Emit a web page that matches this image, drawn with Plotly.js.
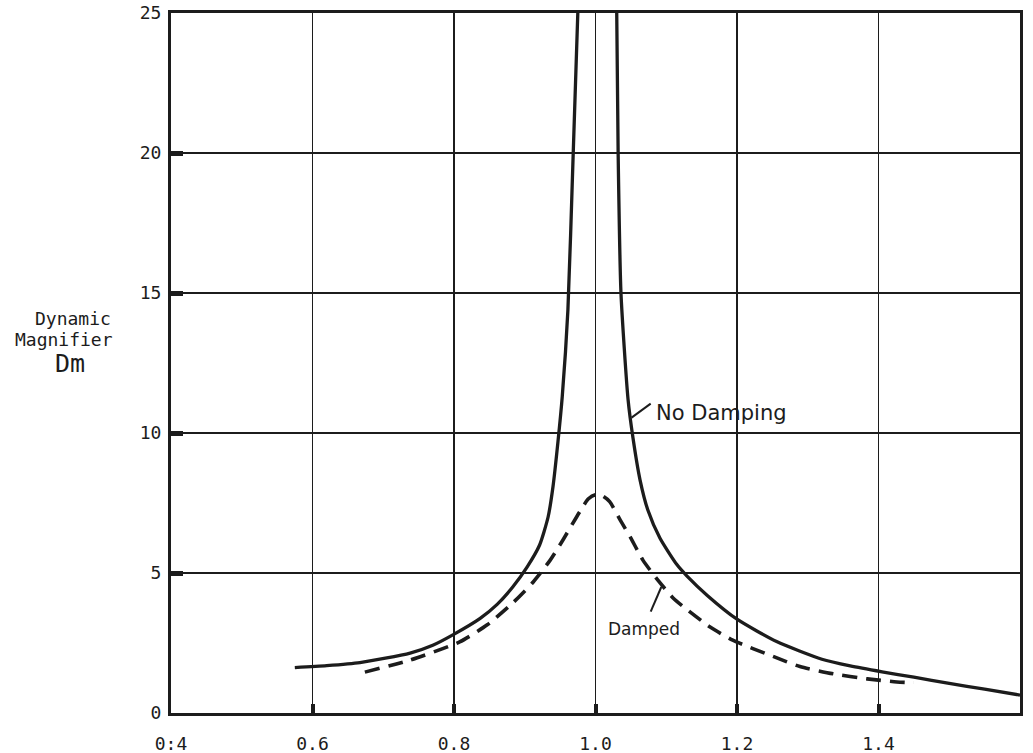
<!DOCTYPE html>
<html>
<head>
<meta charset="utf-8">
<script src="https://cdn.plot.ly/plotly-3.0.1.min.js"></script>
<style>
  html, body { margin: 0; padding: 0; background: #fff; }
  #chart { width: 1033px; height: 753px; }
</style>
</head>
<body>
<div id="chart"></div>
<script>
// Frequency ratio (x) and dynamic magnifier Dm (y)
const noDampLeftX  = [0.575, 0.62, 0.667, 0.738, 0.77, 0.799, 0.837, 0.861, 0.883, 0.903, 0.921, 0.933, 0.94, 0.947, 0.953, 0.961, 0.968, 0.975];
const noDampLeftY  = [1.62, 1.69, 1.80, 2.14, 2.42, 2.80, 3.38, 3.88, 4.50, 5.20, 6.00, 7.0, 8.1, 9.7, 11.3, 14.4, 19.6, 25];
const noDampRightX = [1.030, 1.032, 1.036, 1.046, 1.053, 1.063, 1.074, 1.091, 1.115, 1.129, 1.158, 1.2, 1.256, 1.32, 1.36, 1.405, 1.45, 1.5, 1.55, 1.6];
const noDampRightY = [25, 20, 15, 11.2, 9.82, 8.32, 7.25, 6.25, 5.3, 4.9, 4.2, 3.35, 2.55, 1.92, 1.68, 1.47, 1.28, 1.06, 0.85, 0.64];

const dampedX = [0.674, 0.738, 0.808, 0.847, 0.883, 0.912, 0.936, 0.954, 0.978, 0.99, 1.0, 1.01, 1.02, 1.035, 1.049, 1.067, 1.087, 1.11, 1.129, 1.162, 1.194, 1.251, 1.289, 1.336, 1.384, 1.426, 1.45];
const dampedY = [1.46, 1.89, 2.54, 3.15, 3.93, 4.68, 5.46, 6.18, 7.2, 7.65, 7.8, 7.75, 7.55, 6.89, 6.29, 5.46, 4.78, 4.1, 3.7, 3.07, 2.6, 2.02, 1.66, 1.4, 1.22, 1.11, 1.08];

const xTickVals = [0.4, 0.6, 0.8, 1.0, 1.2, 1.4, 1.6];
const xTickText = ["0:4", "0.6", "0.8", "1.0", "1.2", "1.4", "1.6"];
const yTickVals = [0, 5, 10, 15, 20, 25];
const yTickText = ["0", "5", "10", "15", "20", "25"];

const noDampX = noDampLeftX.concat([null], noDampRightX);
const noDampY = noDampLeftY.concat([null], noDampRightY);

const ink = "#1c1c1c";
const monoFont = "DejaVu Sans Mono, Liberation Mono, monospace";

const traces = [
  {
    x: noDampX, y: noDampY, type: "scatter", mode: "lines",
    connectgaps: false,
    line: { color: ink, width: 3.3, shape: "spline", smoothing: 0.6 },
    hoverinfo: "skip", name: "No Damping"
  },
  {
    x: dampedX, y: dampedY, type: "scatter", mode: "lines",
    line: { color: ink, width: 3.6, dash: "15px,9px", shape: "spline", smoothing: 0.6 },
    hoverinfo: "skip", name: "Damped"
  }
];

const layout = {
  width: 1033, height: 753,
  margin: { l: 171, r: 13, t: 13, b: 40 },
  paper_bgcolor: "#fff", plot_bgcolor: "#fff",
  showlegend: false,
  xaxis: {
    range: [0.4, 1.6],
    tickvals: xTickVals, ticktext: xTickText,
    showgrid: true, gridcolor: ink, gridwidth: 1.8,
    zeroline: false,
    showline: true, linecolor: ink, linewidth: 3, mirror: true,
    ticks: "inside", ticklen: 9, tickwidth: 4, tickcolor: ink,
    ticklabelstandoff: 12,
    tickfont: { family: monoFont, size: 18, color: ink }
  },
  yaxis: {
    range: [0, 25],
    tickvals: yTickVals, ticktext: yTickText,
    showgrid: true, gridcolor: ink, gridwidth: 2.2,
    zeroline: false,
    showline: true, linecolor: ink, linewidth: 3, mirror: true,
    ticks: "inside", ticklen: 12, tickwidth: 5, tickcolor: ink,
    ticklabelstandoff: 3,
    tickfont: { family: monoFont, size: 18, color: ink }
  },
  annotations: [
    {
      xref: "paper", yref: "paper", x: -0.0682, y: 0.564,
      xanchor: "right", yanchor: "middle", showarrow: false,
      text: "Dynamic",
      font: { family: monoFont, size: 18, color: ink }
    },
    {
      xref: "paper", yref: "paper", x: -0.0659, y: 0.534,
      xanchor: "right", yanchor: "middle", showarrow: false,
      text: "Magnifier",
      font: { family: monoFont, size: 18, color: ink }
    },
    {
      xref: "paper", yref: "paper", x: -0.119, y: 0.500,
      xanchor: "center", yanchor: "middle", showarrow: false,
      text: "Dm",
      font: { family: monoFont, size: 25, color: ink }
    },
    {
      xref: "x", yref: "y", x: 1.083, y: 10.7,
      xanchor: "left", yanchor: "middle", showarrow: false,
      text: "No Damping",
      font: { family: "DejaVu Sans, sans-serif", size: 21, color: ink }
    },
    {
      xref: "x", yref: "y", x: 1.069, y: 3.0,
      xanchor: "center", yanchor: "middle", showarrow: false,
      text: "Damped",
      font: { family: "DejaVu Sans, sans-serif", size: 17, color: ink }
    }
  ],
  shapes: [
    { type: "line", xref: "x", yref: "y", x0: 1.051, y0: 10.55, x1: 1.078, y1: 11.05,
      line: { color: ink, width: 2 } },
    { type: "line", xref: "x", yref: "y", x0: 1.078, y0: 3.62, x1: 1.093, y1: 4.5,
      line: { color: ink, width: 2 } }
  ]
};

Plotly.newPlot("chart", traces, layout, { displayModeBar: false, staticPlot: true });
</script>
</body>
</html>
